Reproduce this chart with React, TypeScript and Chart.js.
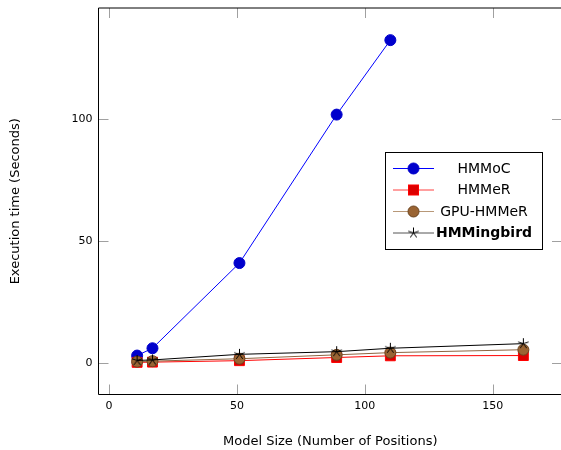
import React, { useEffect, useRef } from "react";
import { Chart, registerables } from "chart.js";

Chart.register(...registerables);

const modelSizes = [11, 17, 51, 89, 110, 162];
const hmmocTimes = [3.0, 6.0, 41.0, 102.0, 132.6];
const hmmerTimes = [0.2, 0.3, 0.9, 2.2, 2.9, 3.0];
const gpuHmmerTimes = [0.5, 0.7, 1.7, 3.3, 4.2, 5.4];
const hmmingbirdTimes = [1.0, 1.2, 3.5, 4.6, 6.0, 7.9];
const seriesNames = ["HMMoC", "HMMeR", "GPU-HMMeR", "HMMingbird"];
const xTickValues = [0, 50, 100, 150];
const yTickValues = [0, 50, 100];
const xTitle = "Model Size (Number of Positions)";
const yTitle = "Execution time (Seconds)";

const FONT = "'DejaVu Sans', sans-serif";

function makeStar(size: number, r: number, color: string): HTMLCanvasElement {
  const c = document.createElement("canvas");
  c.width = size;
  c.height = size;
  const g = c.getContext("2d")!;
  g.strokeStyle = color;
  g.lineWidth = 1;
  const cx = size / 2;
  const cy = size / 2;
  g.beginPath();
  for (let k = 0; k < 5; k++) {
    const a = -Math.PI / 2 + (k * 2 * Math.PI) / 5;
    g.moveTo(cx, cy);
    g.lineTo(cx + r * Math.cos(a), cy + r * Math.sin(a));
  }
  g.stroke();
  return c;
}

const pairs = (ys: number[]) => ys.map((y, i) => ({ x: modelSizes[i], y }));

export default function App() {
  const ref = useRef<HTMLCanvasElement | null>(null);

  useEffect(() => {
    const canvas = ref.current;
    if (!canvas) return;
    const star = makeStar(13, 5.5, "#000000");

    const styles = [
      { line: "#0000ff", legendLine: "#0000ff", fill: "#0000cc", border: "#0000cc", kind: "circle", r: 5.5 },
      { line: "#ff0000", legendLine: "#ff4040", fill: "#dd0000", border: "#ff0000", kind: "rect", r: 5 },
      { line: "#8c6440", legendLine: "#b89878", fill: "#9a6433", border: "#6b4420", kind: "circle", r: 5.5 },
      { line: "#000000", legendLine: "#555555", fill: "#000000", border: "#000000", kind: "star", r: 5.5 },
    ];

    const framePlugin = {
      id: "frameAndLegend",
      afterDraw(chart: any) {
        const { ctx, chartArea } = chart;
        const xs = chart.scales.x;
        const ys = chart.scales.y;
        ctx.save();
        // inward ticks
        ctx.strokeStyle = "#a0a0a0";
        ctx.lineWidth = 1;
        ctx.beginPath();
        xTickValues.forEach((v) => {
          const px = Math.round(xs.getPixelForValue(v)) + 0.5;
          ctx.moveTo(px, chartArea.bottom);
          ctx.lineTo(px, chartArea.bottom - 10);
          ctx.moveTo(px, chartArea.top);
          ctx.lineTo(px, chartArea.top + 10);
        });
        yTickValues.forEach((v) => {
          const py = Math.round(ys.getPixelForValue(v)) + 0.5;
          ctx.moveTo(chartArea.left, py);
          ctx.lineTo(chartArea.left + 10, py);
          ctx.moveTo(chartArea.right, py);
          ctx.lineTo(chartArea.right - 10, py);
        });
        ctx.stroke();
        // frame
        ctx.strokeStyle = "#000000";
        ctx.beginPath();
        ctx.rect(chartArea.left, chartArea.top, chartArea.right - chartArea.left, chartArea.bottom - chartArea.top);
        ctx.stroke();

        // legend
        const bx = 385.5, by = 152.5, bw = 157, bh = 97;
        ctx.fillStyle = "#ffffff";
        ctx.fillRect(bx, by, bw, bh);
        ctx.strokeStyle = "#000000";
        ctx.strokeRect(bx, by, bw, bh);
        const rows = [168, 189.5, 211, 232.5];
        seriesNames.forEach((name, i) => {
          const s = styles[i];
          const y = rows[i];
          ctx.strokeStyle = s.legendLine;
          ctx.lineWidth = 1;
          ctx.beginPath();
          ctx.moveTo(393, y + 0.5);
          ctx.lineTo(434, y + 0.5);
          ctx.stroke();
          const mx = 413.5, my = y + 0.5;
          if (s.kind === "circle") {
            ctx.fillStyle = s.fill;
            ctx.strokeStyle = s.border;
            ctx.beginPath();
            ctx.arc(mx, my, s.r, 0, Math.PI * 2);
            ctx.fill();
            ctx.stroke();
          } else if (s.kind === "rect") {
            ctx.fillStyle = s.fill;
            ctx.strokeStyle = s.border;
            ctx.fillRect(mx - 5, my - 5, 10, 10);
            ctx.strokeRect(mx - 5, my - 5, 10, 10);
          } else {
            ctx.drawImage(star, mx - 6.5, my - 6.5);
          }
          ctx.fillStyle = "#000000";
          ctx.font = (i === 3 ? "bold " : "") + "14px " + FONT;
          ctx.textAlign = "center";
          ctx.textBaseline = "middle";
          ctx.fillText(name, 484, y + 1);
        });
        ctx.restore();
      },
    };

    const seriesData = [hmmocTimes, hmmerTimes, gpuHmmerTimes, hmmingbirdTimes];

    const chart = new Chart(canvas, {
      type: "line",
      data: {
        datasets: seriesData.map((ys, i) => {
          const s = styles[i];
          return {
            label: seriesNames[i],
            data: pairs(ys),
            borderColor: s.line,
            backgroundColor: s.fill,
            borderWidth: 1,
            pointStyle: s.kind === "star" ? star : s.kind,
            pointRadius: s.kind === "rect" ? 7 : s.r,
            pointBackgroundColor: s.fill,
            pointBorderColor: s.border,
            pointBorderWidth: 1,
            tension: 0,
            fill: false,
            order: 3 - i,
          } as any;
        }),
      },
      options: {
        animation: false,
        responsive: false,
        maintainAspectRatio: false,
        layout: { padding: { left: 0, top: 7.5, right: 5.3, bottom: 0 } },
        plugins: { legend: { display: false }, tooltip: { enabled: false } },
        scales: {
          x: {
            type: "linear",
            min: -4.1,
            max: 177.1,
            afterFit: (s: any) => {
              s.height = 55.5;
              s.paddingLeft = 0;
              s.paddingRight = 0;
              s.paddingTop = 0;
              s.paddingBottom = 0;
            },
            afterBuildTicks: (s: any) => {
              s.ticks = xTickValues.map((v) => ({ value: v }));
            },
            grid: { display: false, drawTicks: false },
            border: { display: false },
            ticks: { padding: 5, color: "#000000", font: { family: FONT, size: 11 } },
            title: {
              display: true,
              text: xTitle,
              color: "#000000",
              font: { family: FONT, size: 13 },
              padding: { top: 0, bottom: 1 },
            },
          },
          y: {
            type: "linear",
            min: -13.0,
            max: 145.8,
            afterFit: (s: any) => {
              s.width = 98.5;
              s.paddingLeft = 0;
              s.paddingRight = 0;
              s.paddingTop = 0;
              s.paddingBottom = 0;
            },
            afterBuildTicks: (s: any) => {
              s.ticks = yTickValues.map((v) => ({ value: v }));
            },
            grid: { display: false, drawTicks: false },
            border: { display: false },
            ticks: { padding: 6, color: "#000000", font: { family: FONT, size: 11 } },
            title: {
              display: true,
              text: yTitle,
              color: "#000000",
              font: { family: FONT, size: 13 },
              padding: { top: 8, bottom: 0 },
            },
          },
        },
      },
      plugins: [framePlugin],
    } as any);

    return () => chart.destroy();
  }, []);

  return (
    <div style={{ position: "fixed", left: 0, top: 0, width: 570, height: 450, background: "#ffffff" }}>
      <canvas ref={ref} width={570} height={450} style={{ display: "block", width: 570, height: 450 }} />
    </div>
  );
}
